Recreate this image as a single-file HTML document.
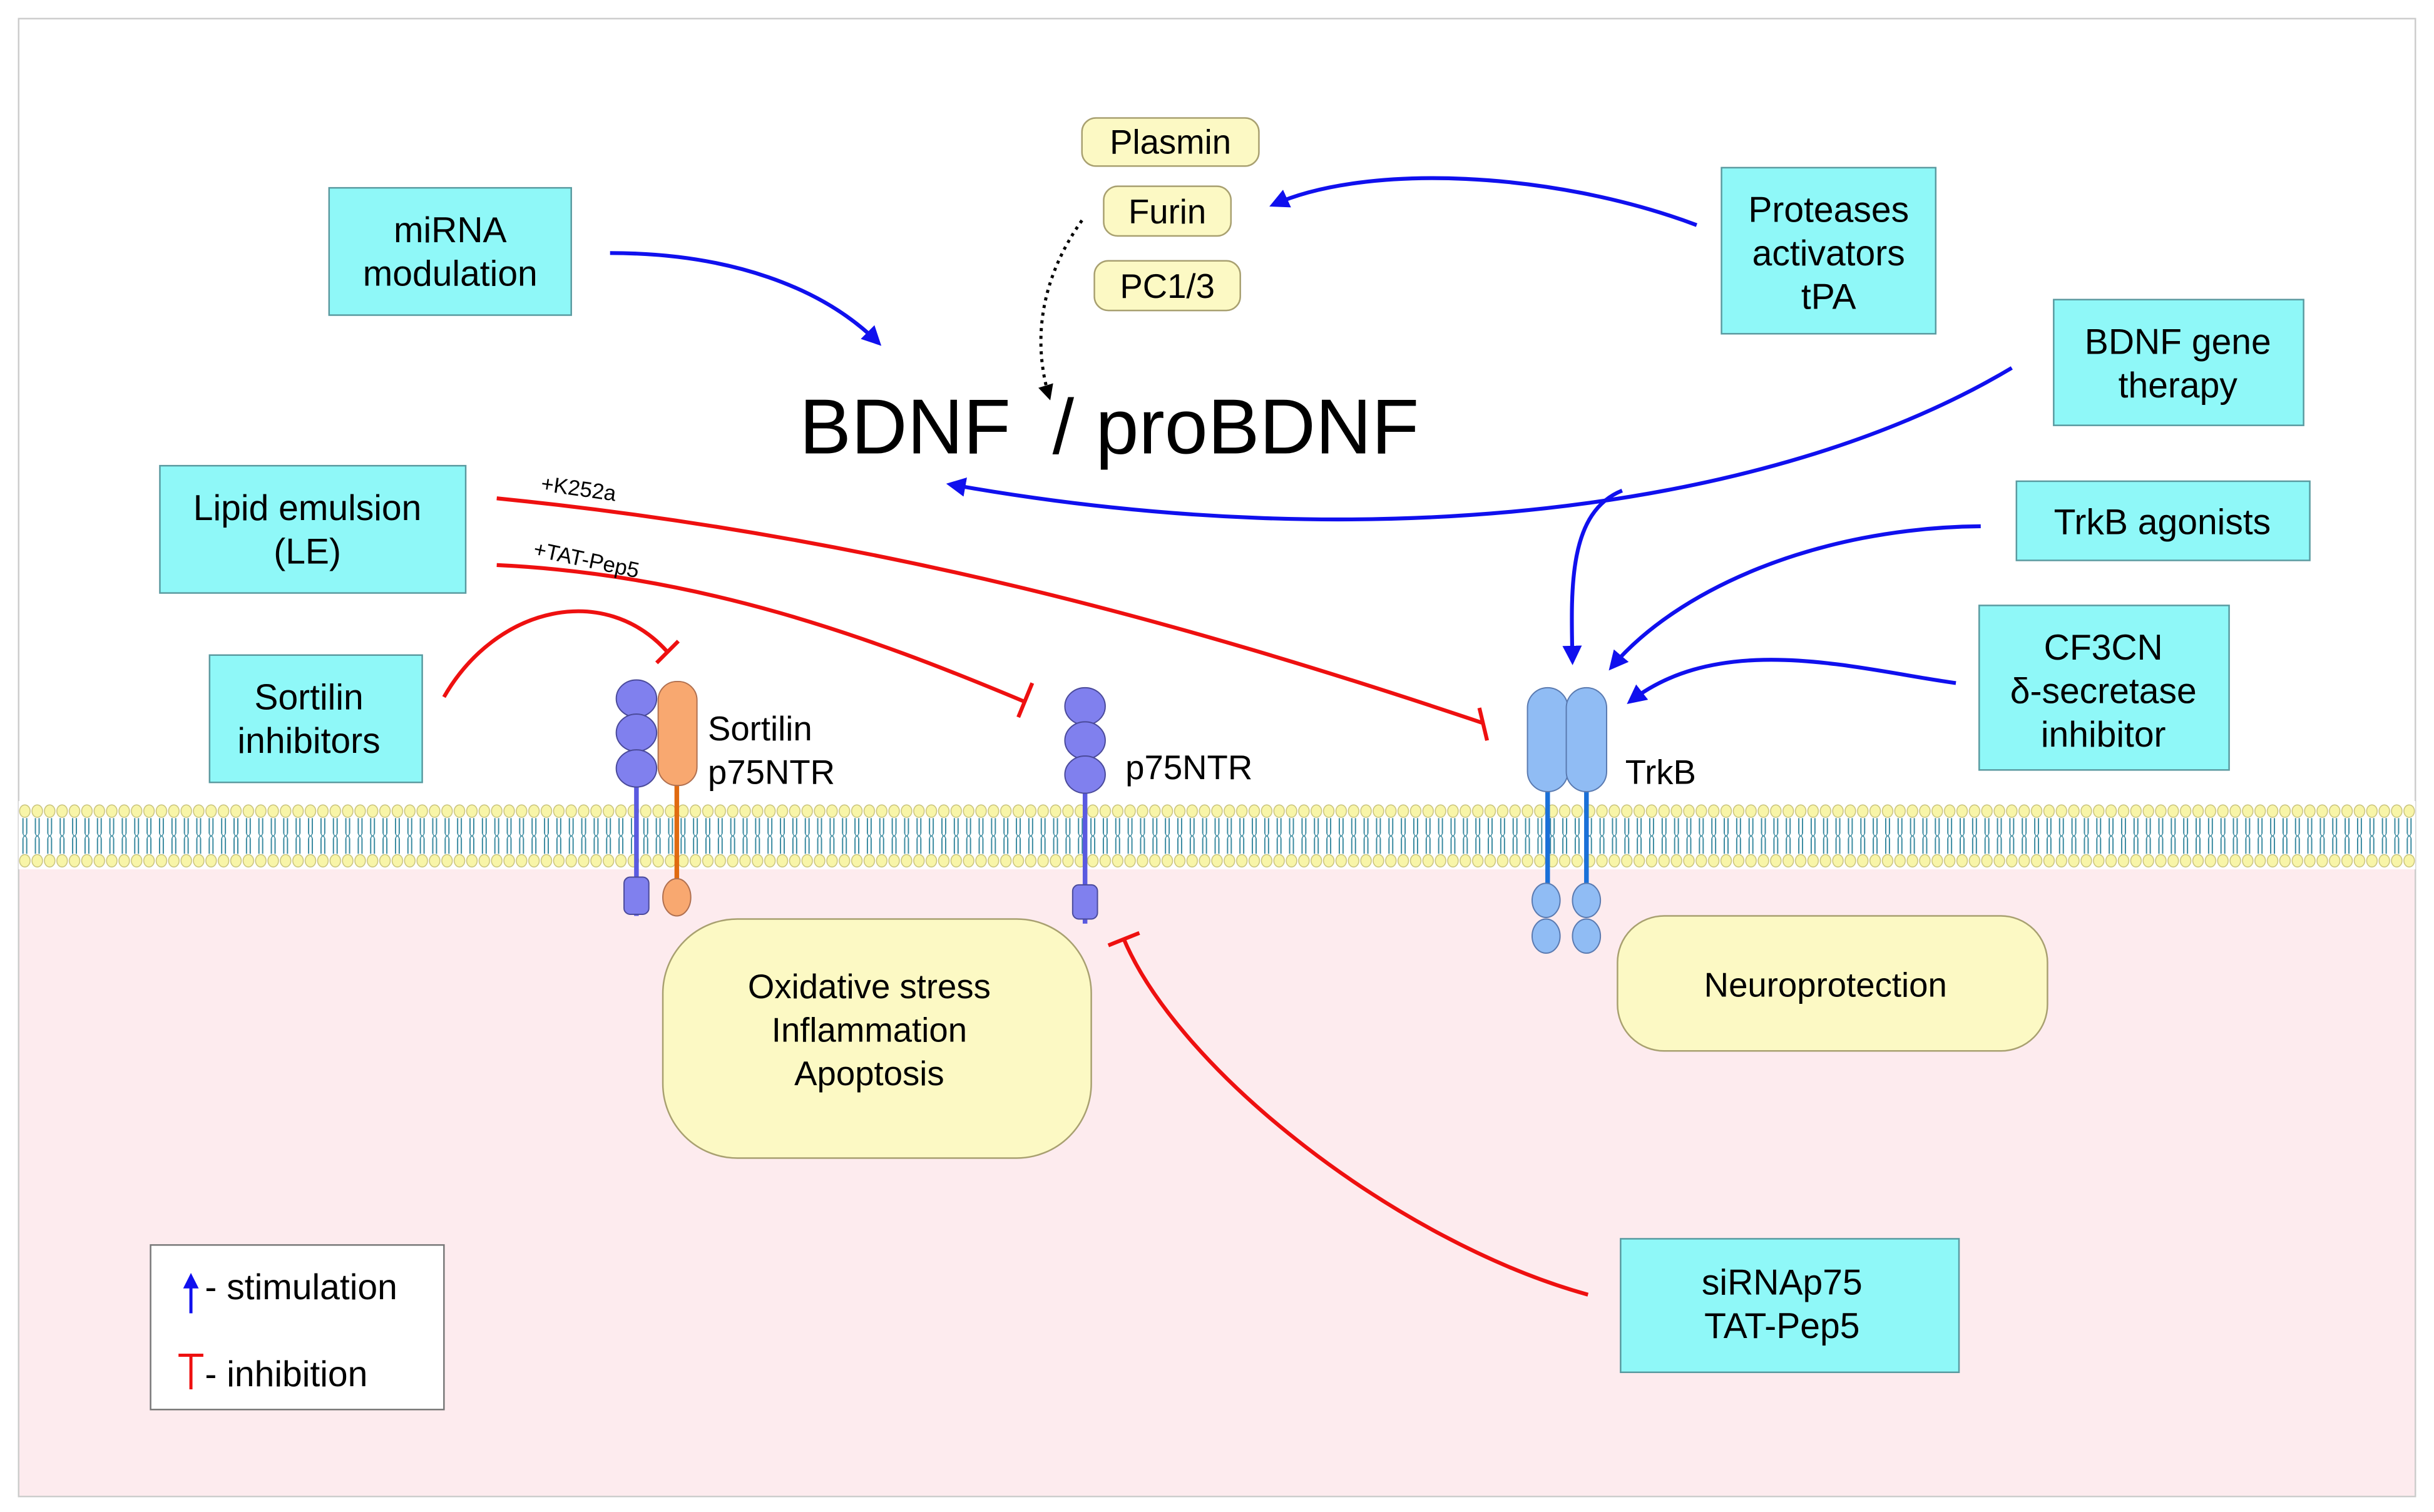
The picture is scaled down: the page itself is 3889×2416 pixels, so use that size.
<!DOCTYPE html>
<html><head><meta charset="utf-8"><style>
html,body{margin:0;padding:0;background:#fff;}
svg{display:block;}
text{font-family:"Liberation Sans",sans-serif;}
</style></head><body>
<svg width="3889" height="2416" viewBox="0 0 1568 974" preserveAspectRatio="none" xmlns="http://www.w3.org/2000/svg">
<defs>
<pattern id="mem" x="12" y="0" width="8" height="974" patternUnits="userSpaceOnUse">
<ellipse cx="4" cy="522.5" rx="3.4" ry="4" fill="#f8f5a8" stroke="#c8c27a" stroke-width="0.6"/>
<ellipse cx="4" cy="554.5" rx="3.4" ry="4" fill="#f8f5a8" stroke="#c8c27a" stroke-width="0.6"/>
<path d="M2.8,527 V537 M5.2,527 V537 M2.8,540 V550 M5.2,540 V550" stroke="#3a8aa0" stroke-width="0.8" fill="none"/>
<path d="M2.8,537 Q4,540 5.2,537 M2.8,540 Q4,537 5.2,540" stroke="#3a8aa0" stroke-width="0.6" fill="none"/>
</pattern>
<marker id="ab" viewBox="0 0 10 10" refX="8" refY="5" markerWidth="5" markerHeight="5" orient="auto"><path d="M0,0 L10,5 L0,10 z" fill="#1010ee"/></marker>
<marker id="ak" viewBox="0 0 10 10" refX="8" refY="5" markerWidth="5" markerHeight="5" orient="auto"><path d="M0,0 L10,5 L0,10 z" fill="#000"/></marker>
</defs>
<rect x="12" y="12" width="1544" height="952" fill="#fff" stroke="#ccc" stroke-width="1"/>
<rect x="12.5" y="540" width="1543" height="423.5" fill="#fdebee"/>
<rect x="12" y="516" width="1544" height="44" fill="#fff"/>
<rect x="12" y="516" width="1544" height="44" fill="url(#mem)"/>

<g fill="#8ff8f8" stroke="#5a9aa0" stroke-width="1">
<rect x="212" y="121" width="156" height="82"/>
<rect x="1109" y="108" width="138" height="107"/>
<rect x="1323" y="193" width="161" height="81"/>
<rect x="103" y="300" width="197" height="82"/>
<rect x="1299" y="310" width="189" height="51"/>
<rect x="1275" y="390" width="161" height="106"/>
<rect x="135" y="422" width="137" height="82"/>
<rect x="1044" y="798" width="218" height="86"/>
</g>
<g font-size="23" text-anchor="middle" fill="#000">
<text x="290" y="156">miRNA</text><text x="290" y="184">modulation</text>
<text x="1178" y="143">Proteases</text><text x="1178" y="171">activators</text><text x="1178" y="199">tPA</text>
<text x="1403" y="228">BDNF gene</text><text x="1403" y="256">therapy</text>
<text x="198" y="335">Lipid emulsion</text><text x="198" y="363">(LE)</text>
<text x="1393" y="344">TrkB  agonists</text>
<text x="1355" y="425">CF3CN</text><text x="1355" y="453">δ-secretase</text><text x="1355" y="481">inhibitor</text>
<text x="199" y="457">Sortilin</text><text x="199" y="485">inhibitors</text>
<text x="1148" y="834">siRNAp75</text><text x="1148" y="862">TAT-Pep5</text>
</g>

<g fill="#fcf9c4" stroke="#a8a070" stroke-width="1">
<rect x="697" y="76" width="114" height="31" rx="9"/>
<rect x="711" y="120" width="82" height="32" rx="9"/>
<rect x="705" y="168" width="94" height="32" rx="9"/>
<rect x="427" y="592" width="276" height="154" rx="48"/>
<rect x="1042" y="590" width="277" height="87" rx="30"/>
</g>
<g font-size="22" text-anchor="middle">
<text x="754" y="99">Plasmin</text>
<text x="752" y="144">Furin</text>
<text x="752" y="192">PC1/3</text>
<text x="560" y="643">Oxidative stress</text>
<text x="560" y="671">Inflammation</text>
<text x="560" y="699">Apoptosis</text>
<text x="1176" y="642">Neuroprotection</text>
</g>

<text x="515" y="292" font-size="50">BDNF</text>
<text x="678" y="292" font-size="50">/ proBDNF</text>

<g stroke="#4a4a9a" stroke-width="0.8">
<line x1="410" y1="500" x2="410" y2="590" stroke="#5a5ae0" stroke-width="3"/>
<line x1="436" y1="500" x2="436" y2="590" stroke="#e06a10" stroke-width="3"/>
<ellipse cx="410" cy="450" rx="13" ry="12" fill="#8080ee"/>
<ellipse cx="410" cy="472" rx="13" ry="12" fill="#8080ee"/>
<ellipse cx="410" cy="495" rx="13" ry="12" fill="#8080ee"/>
<rect x="424" y="439" width="25" height="67" rx="12" fill="#f8a870" stroke="#b07050"/>
<rect x="402" y="565" width="16" height="24" rx="4" fill="#8080ee"/>
<ellipse cx="436" cy="578" rx="9" ry="12" fill="#f8a870" stroke="#b07050"/>
<line x1="699" y1="505" x2="699" y2="595" stroke="#5a5ae0" stroke-width="3"/>
<ellipse cx="699" cy="455" rx="13" ry="12" fill="#8080ee"/>
<ellipse cx="699" cy="477" rx="13" ry="12" fill="#8080ee"/>
<ellipse cx="699" cy="499" rx="13" ry="12" fill="#8080ee"/>
<rect x="691" y="570" width="16" height="22" rx="4" fill="#8080ee"/>
<line x1="997" y1="505" x2="997" y2="575" stroke="#1a70d8" stroke-width="3"/>
<line x1="1022" y1="505" x2="1022" y2="575" stroke="#1a70d8" stroke-width="3"/>
<rect x="984" y="443" width="26" height="67" rx="13" fill="#90bcf4" stroke="#5a7ab0"/>
<rect x="1009" y="443" width="26" height="67" rx="13" fill="#90bcf4" stroke="#5a7ab0"/>
<ellipse cx="996" cy="580" rx="9" ry="11" fill="#90bcf4" stroke="#5a7ab0"/>
<ellipse cx="996" cy="603" rx="9" ry="11" fill="#90bcf4" stroke="#5a7ab0"/>
<ellipse cx="1022" cy="580" rx="9" ry="11" fill="#90bcf4" stroke="#5a7ab0"/>
<ellipse cx="1022" cy="603" rx="9" ry="11" fill="#90bcf4" stroke="#5a7ab0"/>
</g>
<g font-size="22">
<text x="456" y="477">Sortilin</text><text x="456" y="505">p75NTR</text>
<text x="725" y="502">p75NTR</text>
<text x="1047" y="505">TrkB</text>
</g>

<g fill="none" stroke="#1010ee" stroke-width="2.5" marker-end="url(#ab)">
<path d="M393,163 C470,163 530,185 566,221"/>
<path d="M1093,145 C1000,110 880,105 820,132"/>
<path d="M1296,237 C1140,330 880,360 612,312"/>
<path d="M1045,316 C1010,330 1012,380 1013,426"/>
<path d="M1276,339 C1170,340 1080,380 1038,430"/>
<path d="M1260,440 C1200,432 1110,405 1050,452"/>
</g>
<path d="M697,142 C670,180 665,220 676,256" fill="none" stroke="#000" stroke-width="2" stroke-dasharray="2,3" marker-end="url(#ak)"/>

<g fill="none" stroke="#ee1010" stroke-width="2.5">
<path d="M320,321 C560,345 760,400 956,466"/><path d="M953,456 L958,477"/>
<path d="M320,364 C450,370 560,410 660,452"/><path d="M665,440 L656,462"/>
<path d="M286,449 C320,390 390,375 430,420"/><path d="M423,427 L437,413"/>
<path d="M1023,834 C900,800 760,690 724,605"/><path d="M714,609 L734,601"/>
</g>
<text x="348" y="316" font-size="14" transform="rotate(8 348 316)">+K252a</text>
<text x="343" y="358" font-size="14" transform="rotate(12 343 358)">+TAT-Pep5</text>

<rect x="97" y="802" width="189" height="106" fill="#fff" stroke="#777" stroke-width="1"/>
<path d="M123,846 V822" stroke="#1010ee" stroke-width="2" marker-end="url(#ab)"/>
<path d="M123,873 V895 M115,873 H131" stroke="#ee1010" stroke-width="2"/>
<text x="132" y="837" font-size="23">- stimulation</text>
<text x="132" y="893" font-size="23">- inhibition</text>
</svg>
</body></html>
